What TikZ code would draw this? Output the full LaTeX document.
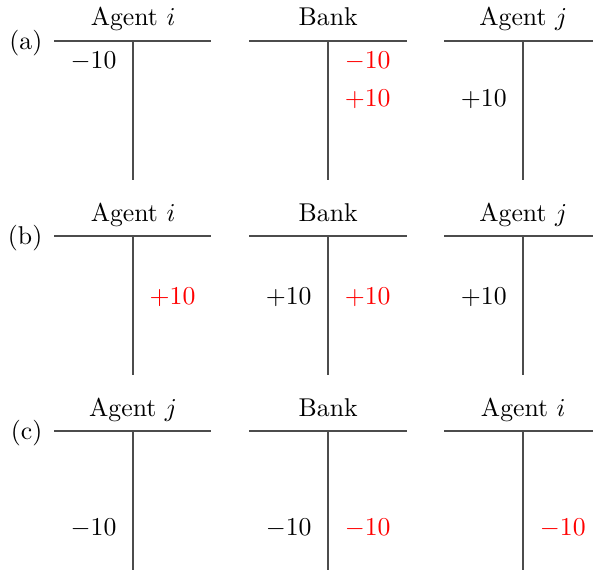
\documentclass[tikz,border=0pt]{standalone}
\usetikzlibrary{positioning}

\begin{document}
\begin{tikzpicture}[
  tline/.style={line width=0.8pt, black!70},
  ttitle/.style={anchor=base, inner sep=0pt},
  entry/.style={inner sep=0pt},
]
  \useasboundingbox (0,0) rectangle (8.10,-7.79);
  % the T accounts, one row per step
  \foreach \r/\lab/\y in {a/(a)/-0.56, b/(b)/-3.225, c/(c)/-5.89}{
    \node[anchor=base east, inner sep=0pt] (lab-\r) at (0.585,\y-0.11) {\lab};
    \foreach \c/\x in {1/1.818, 2/4.483, 3/7.148}{
      \coordinate (t-\r\c) at (\x,\y);
      \draw[tline] ([xshift=-1.08cm]t-\r\c) -- ([xshift=1.07cm]t-\r\c);
      \draw[tline] (t-\r\c) -- ++(0,-1.9);
    }
  }
  % account titles
  \foreach \t/\name [count=\n] in {a1/Agent $i$, a2/Bank, a3/Agent $j$,
                                   b1/Agent $i$, b2/Bank, b3/Agent $j$,
                                   c1/Agent $j$, c2/Bank, c3/Agent $i$}{
    \node[ttitle] (title\n) at ([yshift=0.205cm]t-\t) {\name};
  }
  % entries
  \foreach \t/\anc/\dx/\dy/\col/\val [count=\n] in {
      a1/east/-0.22/0.38/black/-10, a2/west/0.22/0.38/red/-10,
      a2/west/0.22/0.90/red/+10,    a3/east/-0.22/0.90/black/+10,
      b1/west/0.22/0.93/red/+10,    b2/east/-0.22/0.93/black/+10,
      b2/west/0.22/0.93/red/+10,    b3/east/-0.22/0.93/black/+10,
      c1/east/-0.22/1.43/black/-10, c2/east/-0.22/1.43/black/-10,
      c2/west/0.22/1.43/red/-10,    c3/west/0.22/1.43/red/-10}{
    \node[entry, anchor=base \anc, text=\col] (entry\n)
      at ([xshift=\dx cm, yshift=-\dy cm]t-\t) {$\val$};
  }
\end{tikzpicture}
\end{document}
